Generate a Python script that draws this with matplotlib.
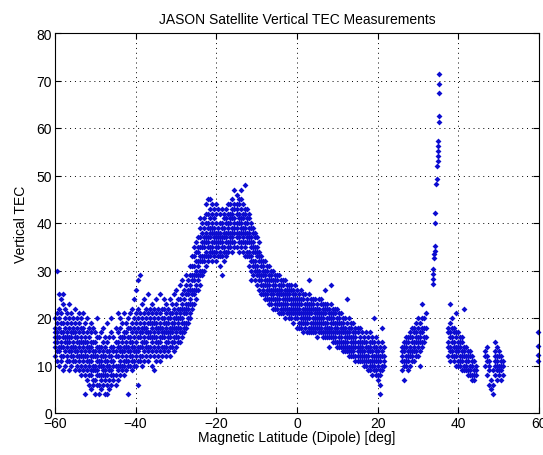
import numpy as np
import matplotlib.pyplot as plt

plt.rcParams['font.family'] = ['Liberation Sans', 'DejaVu Sans']

# TEC readings grouped by magnetic latitude column (deg)
lat_cols = [
    -60.0, -59.5, -59.0, -58.5, -58.0, -57.5, -57.0, -56.5, -56.0, -55.5,
    -55.0, -54.5, -54.0, -53.5, -53.0, -52.5, -52.0, -51.5, -51.0, -50.5,
    -50.0, -49.5, -49.0, -48.5, -48.0, -47.5, -47.0, -46.5, -46.0, -45.5,
    -45.0, -44.5, -44.0, -43.5, -43.0, -42.5, -42.0, -41.5, -41.0, -40.5,
    -40.0, -39.5, -39.0, -38.5, -38.0, -37.5, -37.0, -36.5, -36.0, -35.5,
    -35.0, -34.5, -34.0, -33.5, -33.0, -32.5, -32.0, -31.5, -31.0, -30.5,
    -30.0, -29.5, -29.0, -28.5, -28.0, -27.5, -27.0, -26.5, -26.0, -25.5,
    -25.0, -24.5, -24.0, -23.5, -23.0, -22.5, -22.0, -21.5, -21.0, -20.5,
    -20.0, -19.5, -19.0, -18.5, -18.0, -17.5, -17.0, -16.5, -16.0, -15.5,
    -15.0, -14.5, -14.0, -13.5, -13.0, -12.5, -12.0, -11.5, -11.0, -10.5,
    -10.0, -9.5, -9.0, -8.5, -8.0, -7.5, -7.0, -6.5, -6.0, -5.5,
    -5.0, -4.5, -4.0, -3.5, -3.0, -2.5, -2.0, -1.5, -1.0, -0.5,
    0.0, 0.5, 1.0, 1.5, 2.0, 2.5, 3.0, 3.5, 4.0, 4.5,
    5.0, 5.5, 6.0, 6.5, 7.0, 7.5, 8.0, 8.5, 9.0, 9.5,
    10.0, 10.5, 11.0, 11.5, 12.0, 12.5, 13.0, 13.5, 14.0, 14.5,
    15.0, 15.5, 16.0, 16.5, 17.0, 17.5, 18.0, 18.5, 19.0, 19.5,
    20.0, 20.5, 21.0, 21.5,
    26.0, 26.5, 27.0, 27.5, 28.0, 28.5, 29.0, 29.5, 30.0, 30.5,
    31.0, 31.5, 32.0,
    37.5, 38.0, 38.5, 39.0, 39.5, 40.0, 40.5, 41.0, 41.5, 42.0,
    42.5, 43.0, 43.5, 44.0, 44.5,
    46.5, 47.0, 47.5, 48.0, 48.5, 49.0, 49.5, 50.0, 50.5, 51.0,
    59.8,
]

tec_cols = [
    [12, 14, 16, 17, 18, 20, 15], [30, 11, 13, 15, 17, 19, 21, 16],
    [10, 13, 14, 16, 18, 20, 22, 25], [11, 12, 15, 17, 19, 21, 24, 14],
    [9, 12, 14, 16, 17, 19, 23, 25], [10, 13, 15, 16, 18, 20, 22],
    [11, 12, 14, 15, 17, 19, 21, 16], [9, 11, 13, 15, 16, 18, 20, 23],
    [10, 12, 13, 14, 16, 17, 19, 21], [11, 12, 14, 15, 17, 18, 20],
    [9, 11, 13, 14, 16, 17, 19, 22], [10, 12, 13, 15, 16, 18, 20],
    [9, 11, 12, 14, 15, 17, 19, 21], [8, 10, 12, 13, 15, 16, 18, 20],
    [9, 11, 12, 14, 15, 17, 18, 21], [4, 8, 10, 12, 13, 15, 16, 19],
    [7, 9, 11, 12, 14, 15, 17, 20], [6, 8, 10, 11, 13, 14, 16, 18],
    [5, 8, 9, 11, 12, 14, 15, 17, 19], [6, 7, 9, 10, 12, 13, 15, 18],
    [4, 7, 9, 10, 12, 13, 15, 17], [6, 8, 9, 11, 12, 14, 16, 20],
    [4, 6, 8, 10, 11, 13, 14, 16], [5, 7, 8, 10, 11, 12, 14, 17],
    [6, 8, 9, 10, 12, 13, 15, 18], [4, 7, 8, 9, 11, 12, 14, 16],
    [4, 6, 8, 10, 11, 13, 15, 19], [5, 7, 9, 10, 12, 13, 16],
    [6, 8, 9, 11, 12, 14, 17, 20], [7, 8, 10, 11, 13, 14, 16],
    [6, 8, 10, 12, 13, 15, 18], [7, 9, 10, 12, 14, 15, 17, 21],
    [8, 10, 11, 13, 14, 16, 18, 20], [9, 10, 12, 13, 15, 16, 19],
    [8, 10, 11, 13, 14, 16, 17, 21], [9, 11, 12, 14, 15, 17, 19],
    [4, 10, 11, 13, 14, 16, 18, 20], [10, 12, 13, 15, 16, 18, 21],
    [9, 11, 12, 14, 15, 17, 19, 22], [10, 11, 13, 14, 16, 18, 20, 24],
    [10, 12, 13, 15, 17, 19, 21, 26], [6, 11, 13, 14, 16, 18, 20, 22, 28],
    [11, 12, 14, 16, 17, 19, 21, 29], [10, 12, 14, 15, 17, 18, 20, 23],
    [11, 13, 15, 16, 18, 19, 21, 24], [12, 14, 15, 17, 18, 20, 22],
    [11, 13, 14, 16, 17, 19, 21, 25], [12, 14, 16, 17, 19, 20, 22],
    [10, 13, 15, 16, 18, 19, 21, 23], [9, 12, 14, 16, 17, 19, 20, 22],
    [11, 13, 15, 16, 18, 19, 21, 24], [12, 14, 15, 17, 18, 20, 22],
    [11, 13, 15, 16, 18, 19, 21, 25], [12, 14, 16, 17, 18, 20, 22],
    [13, 14, 16, 17, 19, 20, 22, 24], [12, 14, 15, 17, 18, 19, 21, 23],
    [13, 15, 16, 17, 19, 20, 22], [12, 14, 16, 17, 18, 20, 21, 24],
    [14, 15, 17, 18, 19, 21, 23], [13, 15, 16, 18, 19, 20, 22, 25],
    [14, 16, 17, 18, 20, 21, 23, 26], [15, 16, 18, 19, 20, 22, 24],
    [15, 17, 18, 20, 21, 22, 24, 27], [16, 17, 19, 20, 22, 23, 25, 28],
    [17, 18, 19, 21, 22, 24, 26], [18, 19, 21, 22, 23, 25, 27, 29],
    [19, 20, 22, 23, 25, 26, 28], [20, 21, 23, 24, 26, 27, 29, 31],
    [22, 23, 25, 26, 28, 29, 31, 33], [23, 25, 26, 28, 29, 31, 33, 35],
    [24, 26, 27, 29, 30, 32, 34, 36], [26, 28, 29, 31, 32, 34, 35, 37],
    [27, 29, 30, 32, 33, 35, 37, 39, 41], [29, 30, 32, 33, 35, 36, 38, 40],
    [30, 32, 33, 35, 36, 37, 39, 41], [31, 33, 34, 36, 37, 38, 40, 42, 44],
    [32, 33, 35, 36, 37, 39, 40, 42, 45], [33, 34, 35, 37, 38, 39, 41, 43, 45],
    [32, 34, 35, 36, 38, 39, 40, 42, 44], [33, 34, 36, 37, 38, 39, 41, 43],
    [32, 34, 35, 36, 37, 38, 40, 42, 44], [33, 35, 36, 37, 38, 39, 43],
    [31, 33, 34, 36, 37, 38, 40, 42], [29, 33, 35, 36, 37, 39, 40, 43],
    [32, 34, 35, 37, 38, 39, 41, 42], [33, 34, 36, 37, 38, 40, 41, 43],
    [34, 35, 36, 38, 39, 40, 42, 44], [35, 36, 37, 38, 40, 41, 42, 44],
    [34, 36, 37, 38, 39, 41, 42, 43, 45], [35, 36, 38, 39, 40, 41, 43, 44, 47],
    [35, 37, 38, 39, 40, 42, 43, 44, 46], [34, 36, 37, 38, 40, 41, 42, 44, 45],
    [35, 36, 38, 39, 40, 41, 43, 45, 47], [34, 36, 37, 38, 39, 41, 42, 44],
    [33, 35, 36, 38, 39, 40, 42, 43, 48], [33, 34, 36, 37, 38, 40, 41, 43],
    [31, 33, 34, 36, 37, 38, 39, 41, 42], [28, 30, 32, 33, 35, 36, 37, 39, 40],
    [29, 31, 32, 34, 35, 36, 38, 39], [28, 30, 31, 32, 34, 35, 37, 38],
    [27, 29, 30, 31, 33, 34, 35, 37], [26, 28, 29, 30, 32, 33, 34, 36],
    [25, 27, 28, 29, 31, 32, 33], [25, 26, 27, 29, 30, 31, 32],
    [24, 25, 27, 28, 29, 30, 32], [24, 25, 26, 27, 28, 30, 31],
    [23, 24, 26, 27, 28, 29, 31], [23, 24, 25, 26, 28, 29, 30],
    [22, 24, 25, 26, 27, 28, 30], [22, 23, 24, 26, 27, 28, 29],
    [22, 23, 24, 25, 26, 28, 29], [21, 23, 24, 25, 26, 27, 29],
    [21, 22, 23, 25, 26, 27, 28], [21, 22, 23, 24, 25, 27, 28],
    [20, 22, 23, 24, 25, 26, 28], [21, 22, 23, 24, 25, 26, 27],
    [20, 21, 22, 24, 25, 26, 27], [20, 21, 22, 23, 24, 26, 27],
    [19, 21, 22, 23, 24, 25, 26], [20, 21, 22, 23, 24, 25, 27],
    [18, 20, 21, 22, 23, 24, 26], [18, 19, 21, 22, 23, 24, 25],
    [18, 19, 20, 21, 23, 24, 26], [17, 19, 20, 21, 22, 24, 25],
    [18, 19, 20, 21, 22, 23, 25], [17, 19, 20, 21, 22, 23, 24],
    [17, 18, 20, 21, 22, 23, 25, 28], [17, 18, 19, 21, 22, 23, 24],
    [17, 18, 19, 20, 22, 23, 24], [17, 18, 19, 20, 21, 22, 24],
    [16, 18, 19, 20, 21, 22, 23], [17, 18, 19, 20, 21, 22, 24],
    [17, 18, 19, 20, 21, 23, 24], [16, 17, 19, 20, 21, 22, 23],
    [16, 17, 18, 19, 21, 22, 23, 26], [16, 17, 18, 19, 20, 22, 23],
    [14, 16, 17, 18, 20, 21, 22], [16, 17, 18, 19, 20, 21, 23, 27],
    [15, 16, 17, 19, 20, 21, 22], [15, 16, 17, 18, 19, 21, 22],
    [14, 15, 17, 18, 19, 20, 22], [14, 15, 16, 17, 19, 20, 21],
    [14, 15, 16, 17, 18, 19, 21], [13, 14, 15, 17, 18, 19, 20],
    [13, 14, 15, 16, 17, 18, 20], [13, 14, 15, 16, 17, 19, 24],
    [12, 13, 14, 16, 17, 18, 20], [12, 13, 14, 15, 16, 18, 19],
    [12, 13, 14, 15, 16, 17, 19], [11, 12, 14, 15, 16, 17, 18],
    [11, 12, 13, 14, 15, 17, 18], [11, 12, 13, 14, 15, 16, 18],
    [11, 12, 13, 14, 15, 17], [10, 11, 12, 13, 15, 16],
    [10, 11, 12, 14, 15, 17], [9, 11, 12, 13, 14, 16],
    [9, 10, 11, 13, 14, 15, 17], [8, 10, 11, 12, 13, 15, 16],
    [9, 10, 11, 12, 14, 15, 20], [8, 9, 11, 12, 13, 14, 16],
    [7, 8, 10, 11, 12, 13, 15], [4, 6, 8, 9, 11, 12, 14],
    [9, 10, 12, 13, 15, 18], [10, 11, 12, 14],
    [9, 11, 12, 13, 14], [7, 10, 11, 13, 14, 15],
    [10, 11, 12, 14, 15, 16], [9, 11, 12, 13, 15, 16],
    [10, 12, 13, 14, 16, 17], [11, 12, 13, 15, 16, 18],
    [11, 13, 14, 15, 17, 18], [12, 13, 15, 16, 17, 19],
    [12, 14, 15, 16, 18, 20], [10, 13, 15, 16, 17, 19],
    [14, 15, 17, 18, 20, 23], [15, 16, 18, 20],
    [16, 18, 21],
    [12, 14, 15, 17, 18], [11, 13, 14, 16, 17, 19, 23],
    [12, 13, 15, 16, 18, 20], [11, 12, 14, 15, 17, 18],
    [10, 12, 13, 14, 16, 17, 21], [10, 11, 13, 14, 15, 17],
    [10, 11, 12, 14, 15, 16], [9, 11, 12, 13, 15, 16],
    [9, 10, 12, 13, 14, 22], [9, 10, 11, 12, 14],
    [8, 9, 11, 12, 13], [8, 9, 10, 12, 13],
    [7, 8, 10, 11, 12], [7, 8, 9, 11],
    [8, 9, 10],
    [10, 12, 13], [8, 11, 12, 14], [6, 9, 10, 11], [5, 7], [4, 6, 9],
    [8, 10, 11, 12, 13, 15], [7, 9, 10, 11, 12, 14], [8, 9, 10, 12, 13],
    [7, 9, 10, 11, 12], [8, 10, 11],
    [11, 12.2, 14.1, 17],
]

# narrow spike of the pass near 35 deg
spike_lat = [33.6, 33.6, 33.7, 33.7, 33.9, 34.0, 34.1, 34.2, 34.3, 34.3, 34.5,
             34.6, 34.8, 34.9, 34.9, 35.0, 35.0, 35.0, 35.2, 35.2, 35.2, 35.2, 35.3]
spike_tec = [27.2, 28.2, 29.3, 30.3, 32.6, 33.5, 34.2, 35.2, 40.0, 42.1, 48.2,
             49.3, 52.1, 53.1, 54.2, 55.2, 56.3, 57.3, 61.2, 62.5, 67.3, 69.3, 71.4]

lat = np.concatenate([np.repeat(lat_cols, [len(c) for c in tec_cols]), spike_lat])
tec = np.concatenate([np.concatenate(tec_cols), spike_tec])

fig = plt.figure(figsize=(5.43, 4.56), dpi=100)
ax = fig.add_axes([55 / 543, 42 / 456, 484 / 543, 380 / 456])

ax.plot(lat, tec, 'D', color='#0c0cd0', ms=3.0, mew=0, clip_on=False)

ax.set_xlim(-60, 60)
ax.set_ylim(0, 80)
ax.set_xticks(np.arange(-60, 61, 20))
ax.set_yticks(np.arange(0, 81, 10))
ax.grid(True, color='black', linewidth=0.7, linestyle=(0, (1, 4)))
ax.tick_params(direction='in', top=True, right=True, labelsize=10, length=4, pad=2)
for s in ax.spines.values():
    s.set_linewidth(0.8)

ax.set_title('JASON Satellite Vertical TEC Measurements', fontsize=10, pad=7)
ax.set_xlabel('Magnetic Latitude (Dipole) [deg]', fontsize=10, labelpad=0)
ax.set_ylabel('Vertical TEC', fontsize=10, labelpad=6)

fig.savefig('out.png', dpi=100)
